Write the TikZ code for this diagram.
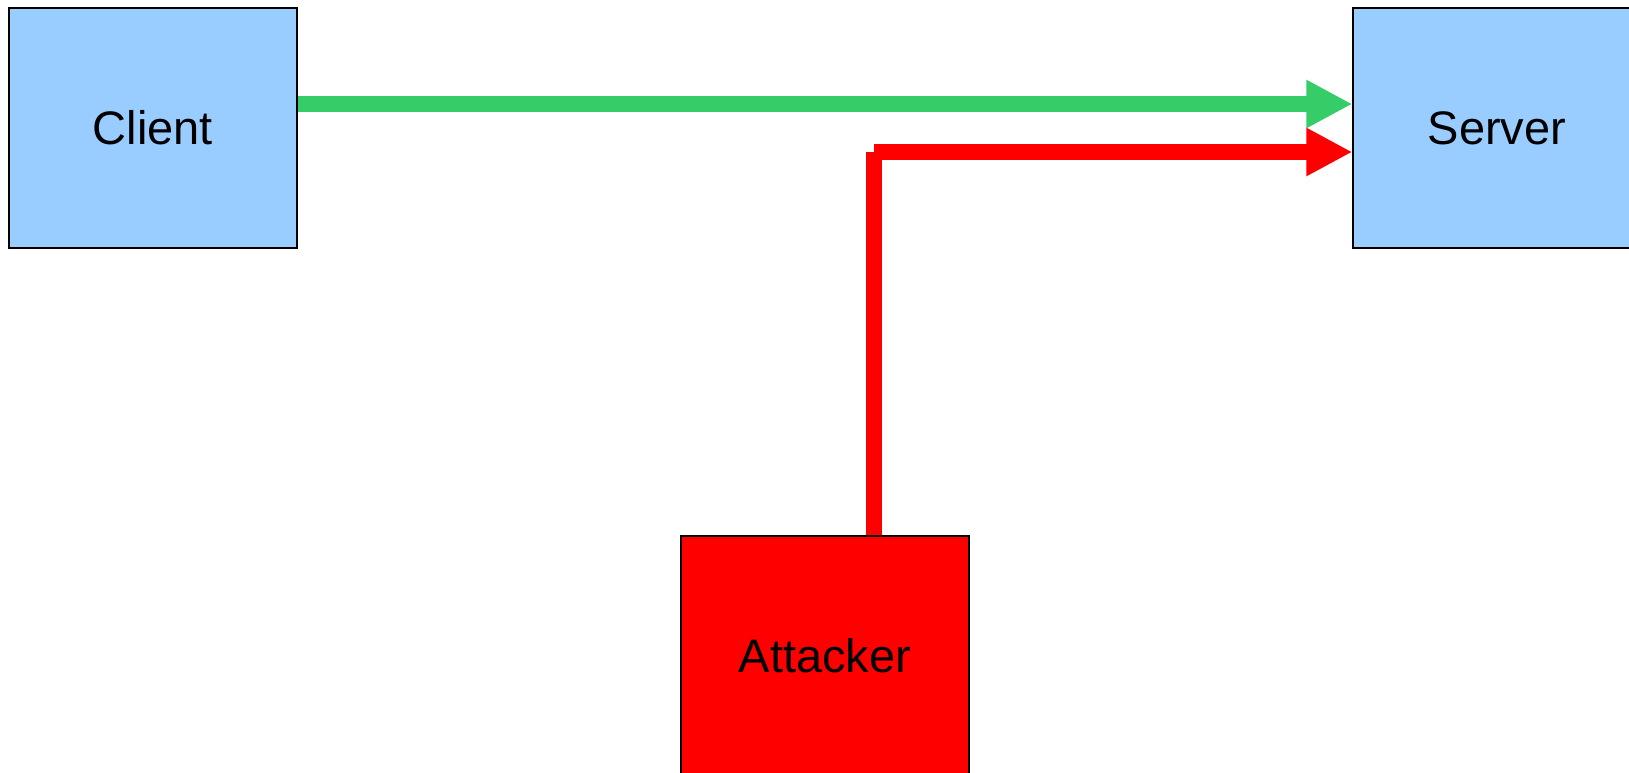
\documentclass[tikz,border=0pt]{standalone}
\usepackage{fontspec}
\setmainfont{Liberation Sans}
\usetikzlibrary{arrows.meta}
\definecolor{boxblue}{RGB}{153,204,255}
\definecolor{okgreen}{RGB}{54,205,104}
\definecolor{badred}{RGB}{255,0,0}
\begin{document}
\begin{tikzpicture}
[x=.5pt, y=-.5pt, b/.style={rectangle,draw=black,line width=.6pt,minimum width=144pt,minimum height=120pt,inner sep=0pt,font=\fontsize{23.5}{28}\selectfont},
w/.style={line width=8pt,-{Triangle[length=23pt,width=22.5pt]}}]
\useasboundingbox (0,0) rectangle (1629,772);
\node(client) at (153,128)[b,fill=boxblue]{Client};\node(server) at (1497,128)[b,fill=boxblue]{Server};
\node(attacker) at (825,656)[b,fill=badred]{Attacker};
\coordinate(bend) at (873.5,152);
\draw[w,okgreen](client.east |- 0,104)--(server.west |- 0,104);
\draw[line width=8pt,badred](attacker.north -| bend)--(bend);\draw[w,badred](bend)--(server.west |- bend);\end{tikzpicture}
\end{document}
